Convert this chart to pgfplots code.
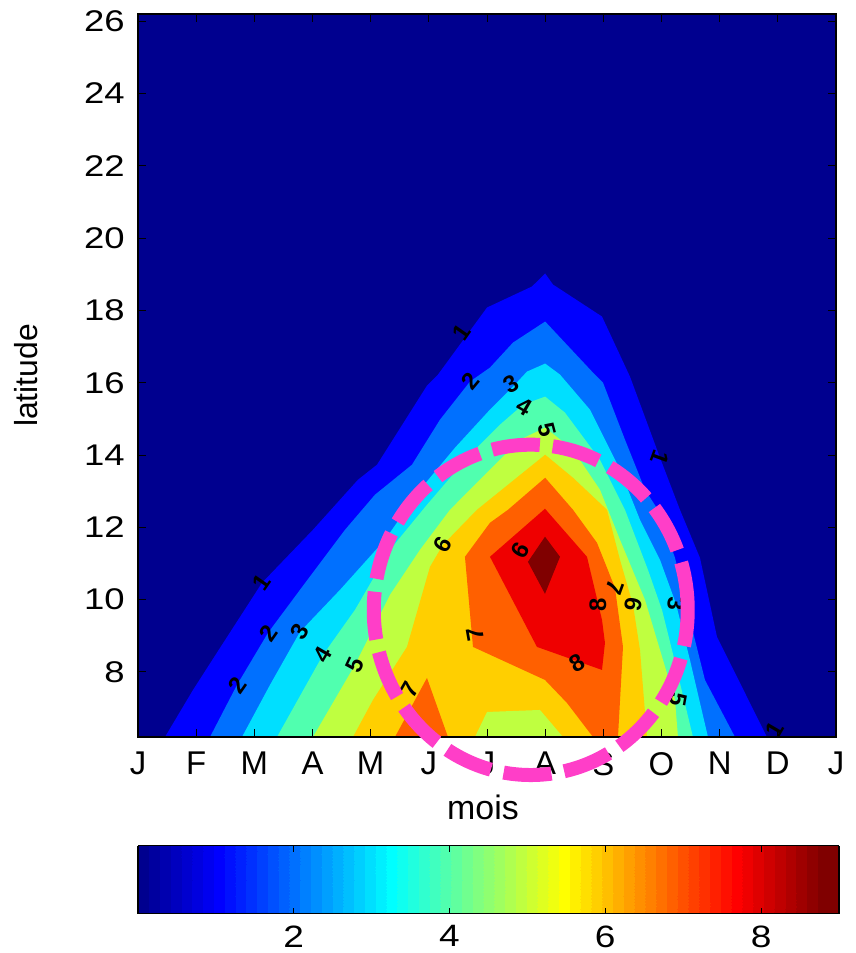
\documentclass[border=0pt]{standalone}
\usepackage{fontspec}
\setmainfont{Liberation Sans}
\usepackage{pgfplots}
\pgfplotsset{compat=1.18}
\usetikzlibrary{calc}
\definecolor{L0}{rgb}{0,0,0.5625}
\definecolor{L1}{rgb}{0,0,1}
\definecolor{L2}{rgb}{0,0.4375,1}
\definecolor{L3}{rgb}{0,0.875,1}
\definecolor{L4}{rgb}{0.3125,1,0.6875}
\definecolor{L5}{rgb}{0.75,1,0.25}
\definecolor{L6}{rgb}{1,0.8125,0}
\definecolor{L7}{rgb}{1,0.375,0}
\definecolor{L8}{rgb}{0.9375,0,0}
\definecolor{L9}{rgb}{0.5,0,0}
\definecolor{pinkc}{RGB}{255,62,200}
\pgfplotsset{colormap={matjet}{
rgb=(0,0,0.5625) rgb=(0,0,0.625) rgb=(0,0,0.6875) rgb=(0,0,0.75) rgb=(0,0,0.8125) rgb=(0,0,0.875) rgb=(0,0,0.9375) rgb=(0,0,1)
rgb=(0,0.0625,1) rgb=(0,0.125,1) rgb=(0,0.1875,1) rgb=(0,0.25,1) rgb=(0,0.3125,1) rgb=(0,0.375,1) rgb=(0,0.4375,1) rgb=(0,0.5,1)
rgb=(0,0.5625,1) rgb=(0,0.625,1) rgb=(0,0.6875,1) rgb=(0,0.75,1) rgb=(0,0.8125,1) rgb=(0,0.875,1) rgb=(0,0.9375,1) rgb=(0,1,1)
rgb=(0.0625,1,0.9375) rgb=(0.125,1,0.875) rgb=(0.1875,1,0.8125) rgb=(0.25,1,0.75) rgb=(0.3125,1,0.6875) rgb=(0.375,1,0.625) rgb=(0.4375,1,0.5625) rgb=(0.5,1,0.5)
rgb=(0.5625,1,0.4375) rgb=(0.625,1,0.375) rgb=(0.6875,1,0.3125) rgb=(0.75,1,0.25) rgb=(0.8125,1,0.1875) rgb=(0.875,1,0.125) rgb=(0.9375,1,0.0625) rgb=(1,1,0)
rgb=(1,0.9375,0) rgb=(1,0.875,0) rgb=(1,0.8125,0) rgb=(1,0.75,0) rgb=(1,0.6875,0) rgb=(1,0.625,0) rgb=(1,0.5625,0) rgb=(1,0.5,0)
rgb=(1,0.4375,0) rgb=(1,0.375,0) rgb=(1,0.3125,0) rgb=(1,0.25,0) rgb=(1,0.1875,0) rgb=(1,0.125,0) rgb=(1,0.0625,0) rgb=(1,0,0)
rgb=(0.9375,0,0) rgb=(0.875,0,0) rgb=(0.8125,0,0) rgb=(0.75,0,0) rgb=(0.6875,0,0) rgb=(0.625,0,0) rgb=(0.5625,0,0) rgb=(0.5,0,0)
rgb=(0.5,0,0)}}
\tikzset{clab/.style={font=\fontsize{24}{24}\selectfont\bfseries, inner sep=0pt, text=black}}
\begin{document}
\begin{tikzpicture}
\useasboundingbox (0,0) rectangle (856bp,953bp);
\begin{axis}[
  at={(138bp,216bp)}, anchor=south west,
  scale only axis, width=698bp, height=723bp,
  xmin=0, xmax=12, ymin=6.2, ymax=26.2,
  xtick={0,1,2,3,4,5,6,7,8,9,10,11,12},
  xticklabels={J,F,M,A,M,J,J,A,S,O,N,D,J},
  ytick={8,10,12,14,16,18,20,22,24,26},
  tick align=inside, major tick length=8bp,
  xtick pos=both, ytick pos=both, xticklabel pos=lower, yticklabel pos=left,
  every tick/.style={black, line width=1bp},
  axis line style={line width=1.2bp},
  axis background/.style={fill=L0},
  axis on top,
  /pgf/number format/assume math mode=true,
  xticklabel style={font=\fontsize{33}{33}\selectfont, inner sep=0pt, yshift=-15bp},
  yticklabel style={font=\fontsize{30}{30}\selectfont, inner sep=0pt, xshift=-13bp, xscale=1.22},
  xlabel={mois}, ylabel={latitude},
  every axis x label/.style={at={(axis description cs:0.5,0)}, anchor=north, inner sep=0pt, yshift=-58bp, xshift=-4bp, font=\fontsize{34}{34}\selectfont},
  every axis y label/.style={at={(axis description cs:0,0.5)}, rotate=90, anchor=south, inner sep=0pt, yshift=100bp, font=\fontsize{32}{32}\selectfont},
  colormap name=matjet, colormap access=piecewise constant,
  point meta min=0, point meta max=9,
  colorbar horizontal,
  colorbar style={
    at={(parent axis.south west)}, anchor=north west, yshift=-100bp,
    scale only axis, width=701bp, height=68bp,
    xtick={2,4,6,8}, ytick=\empty,
    tick align=inside, xtick pos=both, xticklabel pos=lower,
    major tick length=6bp,
    every tick/.style={black, line width=1bp},
    axis line style={line width=1.2bp},
    xticklabel style={font=\fontsize{31}{31}\selectfont, inner sep=0pt, yshift=-12bp, xscale=1.2},
    /pgf/number format/assume math mode=true,
  },
]
% level >= 1
\addplot[fill=L1, draw=none] coordinates {(0.464,6.2) (0.946,7.502) (1.410,8.665) (2.132,10.465) (3.008,11.932) (3.782,13.317) (4.109,13.732) (4.968,15.920) (5.157,16.225) (6.000,18.080) (6.773,18.662) (7,19.022) (7.134,18.717) (7.977,17.831) (8.458,16.169) (8.974,13.926) (9.317,12.486) (9.661,11.157) (9.954,8.969) (10.813,6.2)} --cycle;
% level >= 2
\addplot[fill=L2, draw=none] coordinates {(1.238,6.2) (1.702,7.640) (2.235,9.080) (2.785,10.271) (3.559,11.932) (4.074,12.902) (4.710,13.732) (5.192,14.978) (5.707,16.031) (6.051,16.419) (6.447,17.111) (7,17.693) (7.822,16.280) (7.994,16.003) (8.372,14.425) (8.716,13.040) (8.939,12.486) (9.232,11.157) (9.489,9.440) (9.747,7.778) (10.263,6.2)} --cycle;
% level >= 3
\addplot[fill=L3, draw=none] coordinates {(1.788,6.2) (2.269,7.640) (2.785,9.108) (3.473,10.271) (4.246,11.656) (4.848,13.040) (5.450,14.203) (6.051,15.256) (6.447,15.892) (6.687,16.308) (7,16.530) (7.255,16.225) (7.770,15.256) (8.286,13.594) (8.630,12.209) (8.974,11.102) (9.249,9.883) (9.489,8.332) (9.799,6.2)} --cycle;
% level >= 4
\addplot[fill=L4, draw=none] coordinates {(2.390,6.2) (3.180,8.471) (3.730,9.717) (4.332,11.379) (4.968,12.625) (5.707,14.009) (6.223,14.840) (6.619,15.394) (7,15.616) (7.341,15.172) (7.942,13.871) (8.372,12.486) (8.767,10.825) (9.008,9.717) (9.180,8.609) (9.541,6.2)} --cycle;
% level >= 5
\addplot[fill=L5, draw=none] coordinates {(3.008,6.2) (3.730,8.194) (4.332,10.132) (4.848,11.379) (5.364,12.486) (6.051,13.594) (6.567,14.425) (7,14.757) (7.478,14.148) (7.942,13.040) (8.286,11.656) (8.716,9.994) (8.974,8.609) (9.232,7.225) (9.283,6.2)} --cycle;
% level >= 6
\addplot[fill=L6, draw=none] coordinates {(3.696,6.2) (4.040,7.225) (4.624,8.692) (5.020,10.908) (5.243,11.517) (5.828,12.486) (7,14.009) (7.478,13.372) (8.063,12.486) (8.286,11.102) (8.510,9.855) (8.630,8.609) (8.750,6.2)} --cycle;
% hole below 6
\addplot[fill=L5, draw=none] coordinates {(5.793,6.2) (6.0,6.892) (6.911,6.948) (7.306,6.2)} --cycle;
% level >= 7
\addplot[fill=L7, draw=none] coordinates {(7,13.372) (6.361,12.486) (6.051,12.126) (5.621,11.185) (5.759,8.692) (6.997,7.778) (7.375,7.142) (7.822,6.2) (8.252,6.2) (8.338,8.692) (8.200,10.326) (7.891,11.572) (7.478,12.486)} --cycle;
\addplot[fill=L7, draw=none] coordinates {(4.418,6.2) (4.968,7.834) (5.329,6.2)} --cycle;
% level >= 8
\addplot[fill=L8, draw=none] coordinates {(6.997,12.514) (7.719,11.185) (7.977,9.440) (8.028,8.803) (7.977,8.055) (6.859,8.692) (6.051,11.185)} --cycle;
% level >= 9
\addplot[fill=L9, draw=none] coordinates {(6.997,11.740) (7.255,11.185) (6.997,10.160) (6.704,11.046)} --cycle;
% contour labels
\node[clab, rotate=55] at (axis cs:5.570,17.388) {1};
\node[clab, rotate=50] at (axis cs:5.707,16.059) {2};
\node[clab, rotate=30] at (axis cs:6.420,15.960) {3};
\node[clab, rotate=-30] at (axis cs:6.640,15.330) {4};
\node[clab, rotate=-75] at (axis cs:7.031,14.702) {5};
\node[clab, rotate=60] at (axis cs:5.243,11.517) {6};
\node[clab, rotate=100] at (axis cs:5.793,9.025) {7};
\node[clab, rotate=-120] at (axis cs:6.567,11.351) {9};
\node[clab, rotate=90] at (axis cs:7.908,9.855) {8};
\node[clab, rotate=30] at (axis cs:7.547,8.249) {8};
\node[clab, rotate=-110] at (axis cs:8.200,10.326) {7};
\node[clab, rotate=-100] at (axis cs:8.510,9.855) {6};
\node[clab, rotate=-95] at (axis cs:9.249,9.883) {3};
\node[clab, rotate=-110] at (axis cs:8.974,13.926) {1};
\node[clab, rotate=-100] at (axis cs:9.283,7.225) {5};
\node[clab, rotate=60] at (axis cs:10.950,6.394) {1};
\node[clab, rotate=55] at (axis cs:2.132,10.465) {1};
\node[clab, rotate=55] at (axis cs:2.235,9.080) {2};
\node[clab, rotate=60] at (axis cs:2.785,9.108) {3};
\node[clab, rotate=60] at (axis cs:3.180,8.471) {4};
\node[clab, rotate=65] at (axis cs:3.730,8.194) {5};
\node[clab, rotate=55] at (axis cs:1.702,7.640) {2};
\node[clab, rotate=60] at (axis cs:4.676,7.502) {7};
% ellipse reference points
\coordinate (EC) at (axis cs:6.752,9.717);
\coordinate (ER) at (axis cs:9.451,9.717);
\coordinate (ET) at (axis cs:6.752,14.286);
\end{axis}
\draw[pinkc, line width=14bp, dash pattern=on 48bp off 13bp]
  let \p1=(EC), \p2=(ER), \p3=(ET) in (EC) ellipse [x radius={\x2-\x1}, y radius={\y3-\y1}];
\end{tikzpicture}
\end{document}
